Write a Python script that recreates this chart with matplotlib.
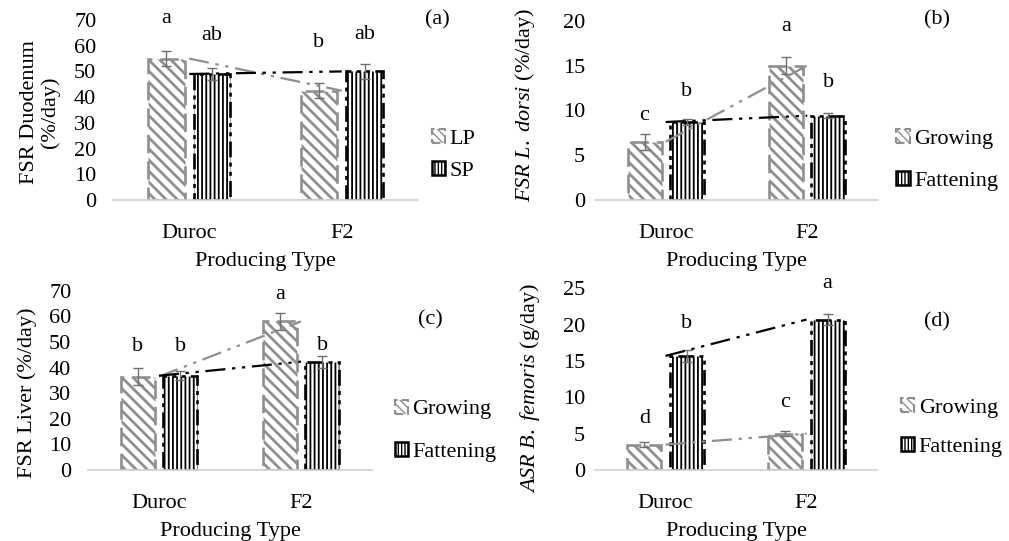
import numpy as np
import matplotlib
matplotlib.use("Agg")
import matplotlib.pyplot as plt
from matplotlib.patches import Patch

plt.rcParams["font.family"] = "Liberation Serif"
plt.rcParams["mathtext.fontset"] = "custom"
plt.rcParams["mathtext.rm"] = "Liberation Serif"
plt.rcParams["mathtext.it"] = "Liberation Serif:italic"

W, H = 1009, 541
FS = 16

categories = ["Duroc", "F2"]

# (a) duodenum, by protein level
a_series = ["LP", "SP"]
a_first = [55.0, 42.5]
a_first_err = [3.0, 3.0]
a_second = [49.0, 50.0]
a_second_err = [2.5, 3.0]
a_first_letters = ["a", "b"]
a_second_letters = ["ab", "ab"]

# (b) L. dorsi, by stage
b_series = ["Growing", "Fattening"]
b_first = [6.5, 15.0]
b_first_err = [0.9, 0.9]
b_second = [8.7, 9.4]
b_second_err = [0.3, 0.3]
b_first_letters = ["c", "a"]
b_second_letters = ["b", "b"]

# (c) liver
c_series = ["Growing", "Fattening"]
c_first = [36.5, 58.0]
c_first_err = [3.3, 3.3]
c_second = [36.8, 42.3]
c_second_err = [1.8, 2.3]
c_first_letters = ["b", "a"]
c_second_letters = ["b", "b"]

# (d) B. femoris accretion
d_series = ["Growing", "Fattening"]
d_first = [3.5, 5.0]
d_first_err = [0.3, 0.3]
d_second = [15.7, 20.7]
d_second_err = [0.8, 0.8]
d_first_letters = ["d", "c"]
d_second_letters = ["b", "a"]

GRAY = "#8f8f8f"
ERR = "#6f6f6f"
BW = 0.24
OFF = 0.15


def px_rect(x0, x1, ytop, ybot):
    return [x0 / W, (H - ybot) / H, (x1 - x0) / W, (ybot - ytop) / H]


def draw_panel(rect, series, first, first_err, second, second_err,
               first_letters, second_letters, letter_y, ymax, ystep,
               ylabel, ylab_xy, tickpad, tag, tag_xy, leg_xy, leg_space):
    ax = fig.add_axes(rect)
    x = np.arange(len(categories))

    with plt.rc_context({"hatch.linewidth": 2.0}):
        ax.bar(x - OFF, first, BW, facecolor="white", edgecolor=GRAY,
               hatch="\\\\\\", linewidth=1.9, linestyle=(0, (7, 3)), zorder=2)
    with plt.rc_context({"hatch.linewidth": 1.3}):
        ax.bar(x + OFF, second, BW, facecolor="white", edgecolor="black",
               hatch="||||", linewidth=1.9,
               linestyle=(0, (6, 2, 1.5, 2, 1.5, 2)), zorder=2)
    ax.errorbar(x - OFF, first, yerr=first_err, fmt="none", ecolor=ERR,
                elinewidth=1, capsize=3.5, capthick=1, zorder=4)
    ax.errorbar(x + OFF, second, yerr=second_err, fmt="none", ecolor=ERR,
                elinewidth=1, capsize=3.5, capthick=1, zorder=4)

    # linear trend per series, drawn through the category centres
    ax.plot(x, first, color=GRAY, lw=1.6,
            linestyle=(0, (9, 3, 1.5, 3, 1.5, 3)), zorder=5)
    ax.plot(x, second, color="black", lw=1.6,
            linestyle=(0, (9, 3, 1.5, 3, 1.5, 3)), zorder=5)

    for i in range(len(categories)):
        ax.text(x[i] - OFF, letter_y[0][i], first_letters[i], ha="center",
                va="baseline", fontsize=FS, clip_on=False)
        ax.text(x[i] + OFF, letter_y[1][i], second_letters[i], ha="center",
                va="baseline", fontsize=FS, clip_on=False)

    ax.set_xlim(-0.5, 1.5)
    ax.set_ylim(0, ymax)
    ax.set_yticks(np.arange(0, ymax + 0.1, ystep))
    ax.set_xticks(x)
    ax.set_xticklabels(categories)
    ax.tick_params(axis="both", length=0, labelsize=FS)
    ax.tick_params(axis="x", pad=17)
    ax.tick_params(axis="y", pad=tickpad)
    for s in ["top", "right", "left"]:
        ax.spines[s].set_visible(False)
    ax.spines["bottom"].set_color("#d0d0d0")
    ax.spines["bottom"].set_linewidth(1.2)

    ax.set_xlabel("Producing Type", fontsize=FS, labelpad=7)
    ax.set_ylabel(ylabel, fontsize=FS, linespacing=1.05, va="center")
    ax.yaxis.set_label_coords(*ylab_xy)

    fig.text(tag_xy[0] / W, 1 - tag_xy[1] / H, tag, fontsize=FS,
             ha="center", va="center")

    handles = [
        Patch(facecolor="white", edgecolor=GRAY, hatch="\\\\\\\\", lw=1.5,
              linestyle=(0, (4, 2)), label=series[0]),
        Patch(facecolor="white", edgecolor="black", hatch="|||||", lw=1.8,
              label=series[1]),
    ]
    ax.legend(handles=handles, loc="center left", bbox_to_anchor=leg_xy,
              frameon=False, fontsize=FS, handlelength=0.6, handleheight=0.6,
              handletextpad=0.2, labelspacing=leg_space, borderpad=0,
              borderaxespad=0)
    return ax


fig = plt.figure(figsize=(W / 100, H / 100), dpi=100)

draw_panel(px_rect(113, 418, 20, 200), a_series, a_first, a_first_err,
           a_second, a_second_err, a_first_letters, a_second_letters,
           [[68.7, 59.6], [62.2, 62.5]], 70, 10,
           "FSR Duodenum\n(%/day)", (-0.24, 0.49), 12, "(a)", (437, 20),
           (1.045, 0.25), 0.55)

draw_panel(px_rect(595, 878, 20.7, 200), b_series, b_first, b_first_err,
           b_second, b_second_err, b_first_letters, b_second_letters,
           [[8.9, 18.8], [11.6, 12.6]], 20, 5,
           r"$\mathit{FSR\ L.\ dorsi}$ (%/day)", (-0.247, 0.53), 7,
           "(b)", (937, 20), (1.065, 0.225), 1.0)

draw_panel(px_rect(88, 372, 290.7, 470), c_series, c_first, c_first_err,
           c_second, c_second_err, c_first_letters, c_second_letters,
           [[46.3, 66.8], [46.3, 46.9]], 70, 10,
           "FSR Liver (%/day)", (-0.215, 0.43), 12, "(c)", (430, 320),
           (1.08, 0.22), 1.0)

draw_panel(px_rect(595, 877, 288.3, 470), d_series, d_first, d_first_err,
           d_second, d_second_err, d_first_letters, d_second_letters,
           [[6.4, 8.6], [19.5, 25.0]], 25, 5,
           r"$\mathit{ASR\ B.\ femoris}$ (g/day)", (-0.23, 0.45), 7,
           "(d)", (937, 322), (1.085, 0.235), 0.85)

fig.savefig("out.png", dpi=100)
